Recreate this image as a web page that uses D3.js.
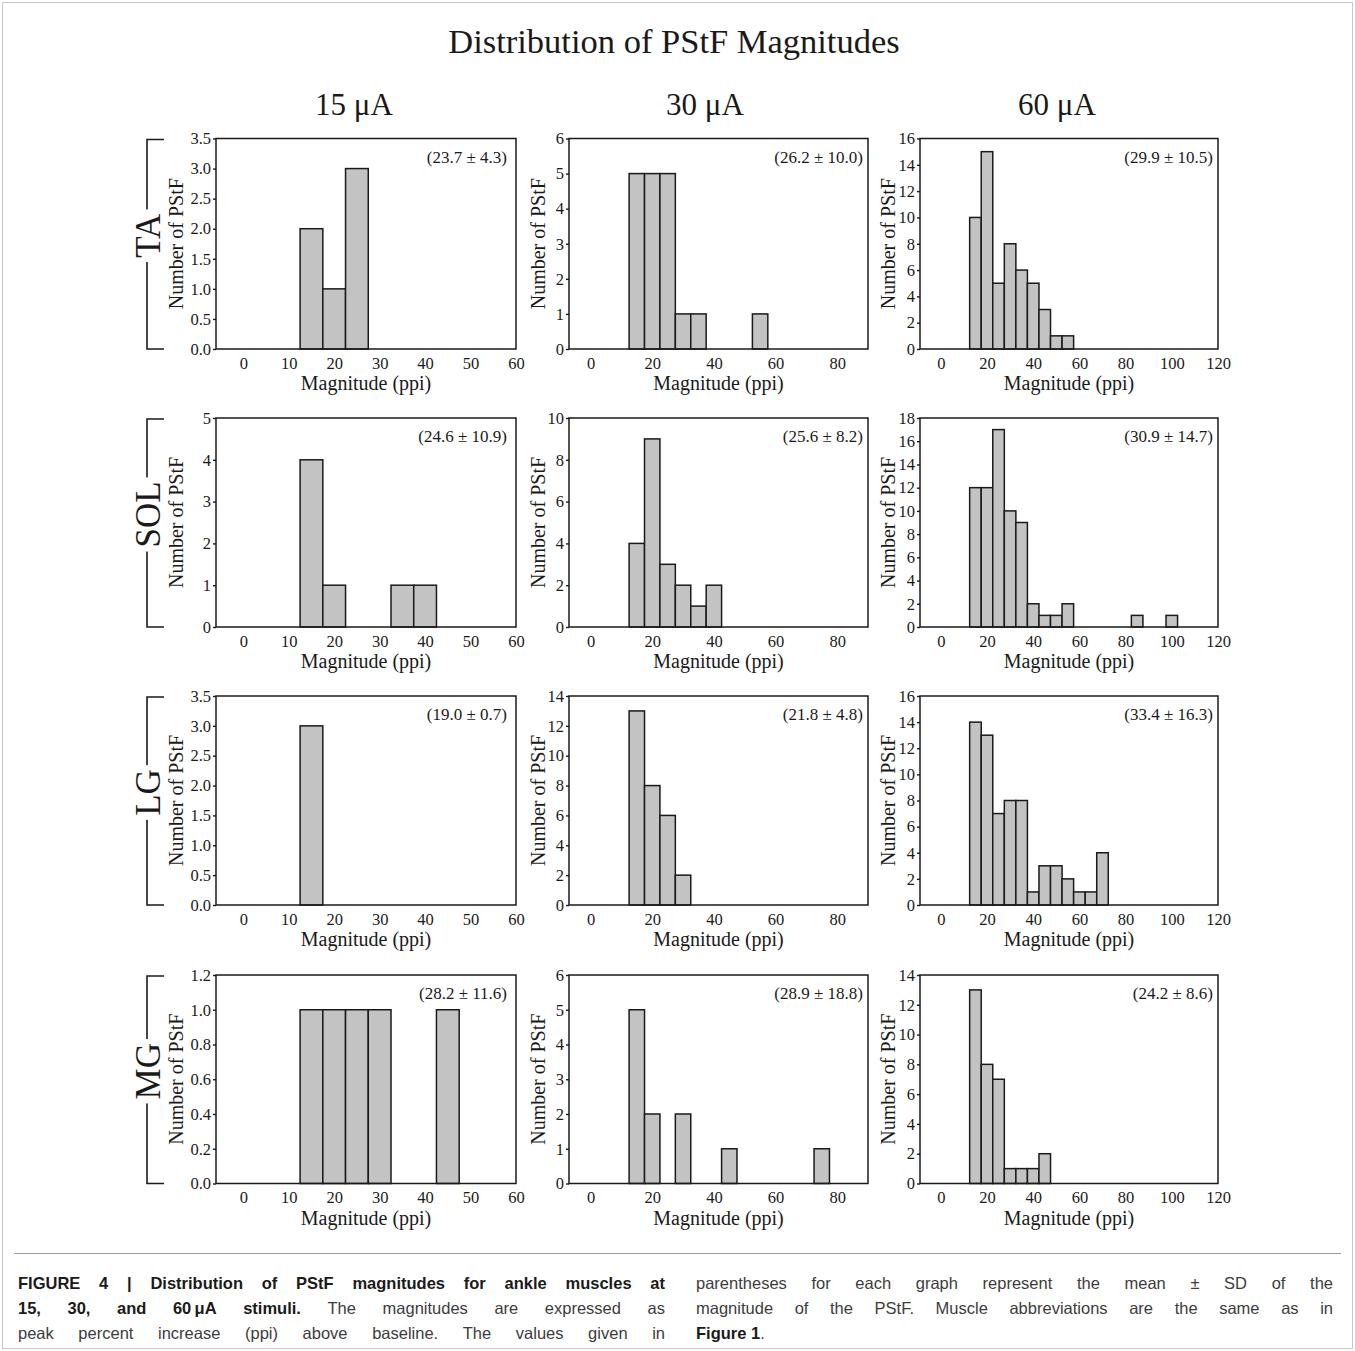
<!DOCTYPE html>
<html>
<head>
<meta charset="utf-8">
<script src="https://cdn.jsdelivr.net/npm/d3@7"></script>
<style>
  body { margin: 0; background: #fff; }
  svg text { font-family: "Liberation Serif", "Times New Roman", serif; fill: #1a1a1a; }
  svg text.cap { font-family: "Liberation Sans", Arial, sans-serif; }
</style>
</head>
<body>
<script>
// ---- data (bin centre, count); bins are 5 ppi wide ----
const muscles = ['TA', 'SOL', 'LG', 'MG'];
const stimuli = ['15 \u03bcA', '30 \u03bcA', '60 \u03bcA'];

const TA_15  = [[15, 2], [20, 1], [25, 3]];
const TA_30  = [[15, 5], [20, 5], [25, 5], [30, 1], [35, 1], [55, 1]];
const TA_60  = [[15, 10], [20, 15], [25, 5], [30, 8], [35, 6], [40, 5], [45, 3], [50, 1], [55, 1]];
const SOL_15 = [[15, 4], [20, 1], [35, 1], [40, 1]];
const SOL_30 = [[15, 4], [20, 9], [25, 3], [30, 2], [35, 1], [40, 2]];
const SOL_60 = [[15, 12], [20, 12], [25, 17], [30, 10], [35, 9], [40, 2], [45, 1], [50, 1], [55, 2], [85, 1], [100, 1]];
const LG_15  = [[15, 3]];
const LG_30  = [[15, 13], [20, 8], [25, 6], [30, 2]];
const LG_60  = [[15, 14], [20, 13], [25, 7], [30, 8], [35, 8], [40, 1], [45, 3], [50, 3], [55, 2], [60, 1], [65, 1], [70, 4]];
const MG_15  = [[15, 1], [20, 1], [25, 1], [30, 1], [45, 1]];
const MG_30  = [[15, 5], [20, 2], [30, 2], [45, 1], [75, 1]];
const MG_60  = [[15, 13], [20, 8], [25, 7], [30, 1], [35, 1], [40, 1], [45, 2]];

const hists = [
  [TA_15, TA_30, TA_60],
  [SOL_15, SOL_30, SOL_60],
  [LG_15, LG_30, LG_60],
  [MG_15, MG_30, MG_60]
];
const stats = [
  ['(23.7 \u00b1 4.3)', '(26.2 \u00b1 10.0)', '(29.9 \u00b1 10.5)'],
  ['(24.6 \u00b1 10.9)', '(25.6 \u00b1 8.2)', '(30.9 \u00b1 14.7)'],
  ['(19.0 \u00b1 0.7)', '(21.8 \u00b1 4.8)', '(33.4 \u00b1 16.3)'],
  ['(28.2 \u00b1 11.6)', '(28.9 \u00b1 18.8)', '(24.2 \u00b1 8.6)']
];
const yMax  = [[3.5, 6, 16], [5, 10, 18], [3.5, 14, 16], [1.2, 6, 14]];
const yStep = [[0.5, 1, 2], [1, 2, 2], [0.5, 2, 2], [0.2, 1, 2]];
const xDom  = [[-6, 60], [-7, 90], [-9, 120]];
const xTicks = [[0, 10, 20, 30, 40, 50, 60], [0, 20, 40, 60, 80], [0, 20, 40, 60, 80, 100, 120]];
const binW = 5;

// ---- layout ----
const W = 1355, H = 1351;
const colL = [216, 569, 920], colR = [516, 868, 1218];
const rowT = [138.5, 418, 696, 975], rowB = [349, 627, 905, 1183.5];
const headX = [354, 705, 1057];
const yLabOff = [40, 31, 32];
const tickFs = '16.5px', labFs = '20px';

const svg = d3.select('body').append('svg').attr('width', W).attr('height', H);
svg.append('rect').attr('x', 2.5).attr('y', 2.5).attr('width', W - 5).attr('height', H - 5)
  .attr('fill', 'none').attr('stroke', '#c8c8c8');

svg.append('text').attr('x', 674).attr('y', 53).attr('text-anchor', 'middle')
  .style('font-size', '34.5px').text('Distribution of PStF Magnitudes');

stimuli.forEach((s, j) => {
  svg.append('text').attr('x', headX[j]).attr('y', 115).attr('text-anchor', 'middle')
    .style('font-size', '31px').text(s);
});

muscles.forEach((m, i) => {
  const T = rowT[i], B = rowB[i], cy = (T + B) / 2;
  const ly = cy - 8;
  const br = svg.append('g');
  br.append('path').attr('d', `M164,${T + 1}H147V${B}H164`).attr('fill', 'none').attr('stroke', '#1a1a1a').attr('stroke-width', 1.6);
  const lbl = br.append('text').attr('transform', `translate(160,${ly}) rotate(-90)`)
    .attr('text-anchor', 'middle').style('font-size', '35px').text(m);
  const bb = lbl.node().getBBox();
  br.insert('rect', 'text').attr('x', 134).attr('y', ly - bb.width / 2 - 4)
    .attr('width', 28).attr('height', bb.width + 8).attr('fill', '#fff');

  hists[i].forEach((data, j) => {
    const L = colL[j], R = colR[j];
    const x = d3.scaleLinear().domain(xDom[j]).range([L, R]);
    const y = d3.scaleLinear().domain([0, yMax[i][j]]).range([B, T]);
    const g = svg.append('g');
    const fmt = yStep[i][j] < 1 ? d3.format('.1f') : d3.format('d');
    const yt = d3.range(0, yMax[i][j] + 1e-9, yStep[i][j]);

    g.selectAll('rect.bar').data(data).join('rect').attr('class', 'bar')
      .attr('x', d => x(d[0] - binW / 2)).attr('width', d => x(d[0] + binW / 2) - x(d[0] - binW / 2))
      .attr('y', d => y(d[1])).attr('height', d => y(0) - y(d[1]))
      .attr('fill', '#c3c3c3').attr('stroke', '#1a1a1a').attr('stroke-width', 1.5);

    const ax = g.append('g').attr('transform', `translate(0,${B})`)
      .call(d3.axisBottom(x).tickValues(xTicks[j]).tickSize(0).tickPadding(8));
    ax.select('.domain').remove();
    ax.selectAll('text').style('font-size', tickFs).attr('fill', '#1a1a1a').style('font-family', '"Liberation Serif", serif');

    const ay = g.append('g').attr('transform', `translate(${L},0)`)
      .call(d3.axisLeft(y).tickValues(yt).tickFormat(fmt).tickSize(3).tickPadding(2));
    ay.select('.domain').remove();
    ay.selectAll('line').attr('stroke', '#1a1a1a').attr('stroke-width', 1.4);
    ay.selectAll('text').style('font-size', tickFs).attr('fill', '#1a1a1a').style('font-family', '"Liberation Serif", serif');

    g.append('rect').attr('x', L).attr('y', T).attr('width', R - L).attr('height', B - T)
      .attr('fill', 'none').attr('stroke', '#1a1a1a').attr('stroke-width', 1.5);

    g.append('text').attr('x', R - (j === 0 ? 9 : 5)).attr('y', T + 24).attr('text-anchor', 'end')
      .style('font-size', '17px').text(stats[i][j]);

    g.append('text').attr('x', (L + R) / 2).attr('y', B + 41).attr('text-anchor', 'middle')
      .style('font-size', labFs).text('Magnitude (ppi)');

    g.append('text').attr('transform', `translate(${L - yLabOff[j]},${cy}) rotate(-90)`)
      .attr('dy', '0.35em').attr('text-anchor', 'middle').style('font-size', labFs).text('Number of PStF');
  });
});

// ---- caption ----
svg.append('line').attr('x1', 14).attr('x2', 1341).attr('y1', 1253.5).attr('y2', 1253.5)
  .attr('stroke', '#9a9a9a').attr('stroke-width', 1);

const capCols = [
  { x0: 18, x1: 665, lines: [
    { j: true, segs: [['FIGURE 4 | Distribution of PStF magnitudes for ankle muscles at', 1]] },
    { j: true, segs: [['15, 30, and 60\u2009\u03bcA stimuli.', 1], ['The magnitudes are expressed as', 0]] },
    { j: true, segs: [['peak percent increase (ppi) above baseline. The values given in', 0]] }
  ]},
  { x0: 696, x1: 1333, lines: [
    { j: true, segs: [['parentheses for each graph represent the mean \u00b1 SD of the', 0]] },
    { j: true, segs: [['magnitude of the PStF. Muscle abbreviations are the same as in', 0]] },
    { j: false, segs: [['Figure 1', 1], ['.', 0, true]] }
  ]}
];
const capY = [1289, 1314, 1339];

capCols.forEach(col => {
  col.lines.forEach((ln, k) => {
    const words = [];
    ln.segs.forEach(([t, b, glue]) => {
      t.split(' ').forEach((w, wi) => words.push({ w, b, glue: glue && wi === 0 }));
    });
    const els = words.map(d => {
      const t = svg.append('text').attr('class', 'cap').attr('y', capY[k])
        .style('font-size', '16.5px').style('font-weight', d.b ? 'bold' : 'normal')
        .style('fill', d.b ? '#1a1a1a' : '#3c3c3c').text(d.w);
      return { el: t, wd: t.node().getComputedTextLength(), glue: d.glue };
    });
    const gaps = els.filter((e, idx) => idx > 0 && !e.glue).length;
    const total = d3.sum(els, e => e.wd);
    const gap = ln.j && gaps > 0 ? (col.x1 - col.x0 - total) / gaps : 4.6;
    let cx = col.x0;
    els.forEach((e, idx) => {
      if (idx > 0 && !e.glue) cx += gap;
      e.el.attr('x', cx);
      cx += e.wd;
    });
  });
});
</script>
</body>
</html>
